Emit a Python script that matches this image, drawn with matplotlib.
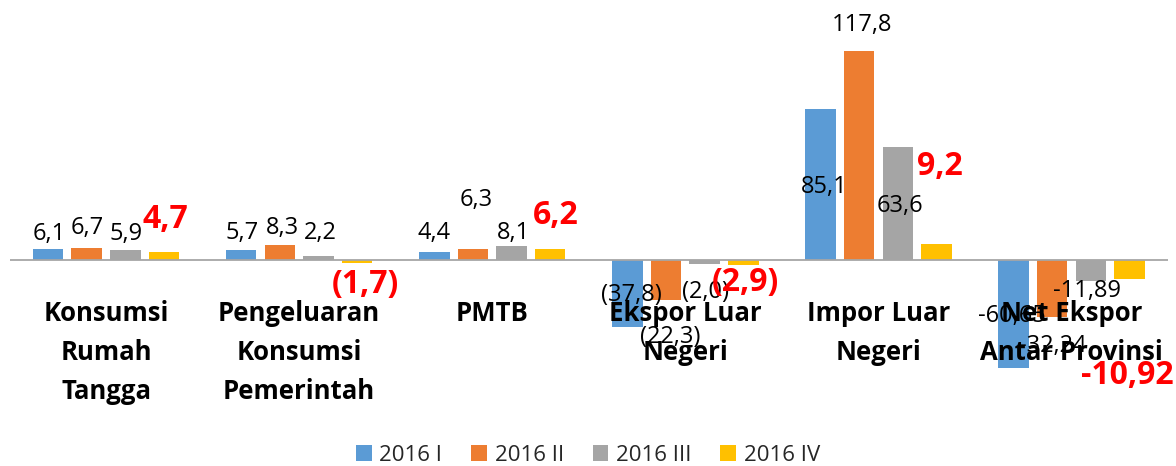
import matplotlib
matplotlib.use("Agg")
import matplotlib.pyplot as plt
from matplotlib.patches import Patch
import numpy as np

# data
categories = ["Konsumsi\nRumah\nTangga", "Pengeluaran\nKonsumsi\nPemerintah", "PMTB",
              "Ekspor Luar\nNegeri", "Impor Luar\nNegeri", "Net Ekspor\nAntar Provinsi"]
series_names = ["2016 I", "2016 II", "2016 III", "2016 IV"]
q1 = [6.1, 5.7, 4.4, -37.8, 85.1, -60.65]
q2 = [6.7, 8.3, 6.3, -22.3, 117.8, -32.24]
q3 = [5.9, 2.2, 8.1, -2.0, 63.6, -11.89]
q4 = [4.7, -1.7, 6.2, -2.9, 9.2, -10.92]
decimals = [1, 1, 1, 1, 1, 2]

# styles
colors = ["#5B9BD5", "#ED7D31", "#A5A5A5", "#FFC000"]
FONT = ["Open Sans", "DejaVu Sans"]
plt.rcParams["font.family"] = FONT

# label offsets in pixels (dx, dy up) relative to bar tip
offsets = [
    [(1, 15), (1, 17), (0, 19), (4, 32), (4, -78), (-2, 52)],
    [(1, 20), (3, 17), (3, 49), (4, -37), (3, 26), (1, -29)],
    [(1, 16), (2, 23), (2, 13), (1, -28), (2, -59), (-4, -10)],
    [(1, 32), (8, -21), (6, 33), (2, -17), (3, 77), (-2, -96)],
]


def fmt(v, dec, paren):
    s = f"{abs(v):.{dec}f}".replace(".", ",")
    if v < 0:
        return f"({s})" if paren else "-" + s
    return s


fig = plt.figure(figsize=(11.76, 4.66), dpi=100)
ax = fig.add_axes([9.5 / 1176, 0, 1158.6 / 1176, 1])
px_per_unit = 1.775
ax.set_xlim(-0.5, 5.5)
ax.set_ylim(-(466 - 260) / px_per_unit, 260 / px_per_unit)
ax.axis("off")

x = np.arange(len(categories))
width = 0.158
step = 0.2
all_series = [q1, q2, q3, q4]
for i, vals in enumerate(all_series):
    pos = x + (i - 1.5) * step
    ax.bar(pos, vals, width, color=colors[i], zorder=2)
    for k, v in enumerate(vals):
        red = i == 3
        dx, dy = offsets[i][k]
        ax.annotate(fmt(v, decimals[k], k < 5), xy=(pos[k], v), xytext=(dx, dy),
                    textcoords="offset pixels", ha="center", va="center",
                    fontsize=23 if red else 17,
                    fontweight="bold" if red else "normal",
                    color="#FF0000" if red else "#000000", zorder=4)

ax.axhline(0, color="#A6A6A6", lw=1.3, zorder=3)

# category labels, drawn line by line over the bars
for k, cat in enumerate(categories):
    for j, line in enumerate(cat.split("\n")):
        ax.annotate(line, xy=(x[k], 0), xytext=(0, -61 - 39 * j),
                    textcoords="offset pixels", ha="center", va="baseline",
                    fontsize=18.5, fontweight="bold", color="#000000", zorder=5)

handles = [Patch(facecolor=c, edgecolor="none", label=n) for c, n in zip(colors, series_names)]
fig.legend(handles=handles, loc="lower center", bbox_to_anchor=(0.5, -0.042), ncol=4,
           frameon=False, fontsize=16, handlelength=0.7, handleheight=0.7,
           handletextpad=0.35, columnspacing=1.3, labelcolor="#262626")

fig.savefig("out.png", dpi=100)
